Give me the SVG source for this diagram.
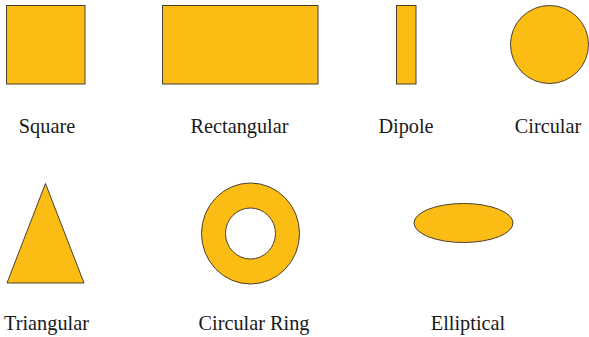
<svg xmlns="http://www.w3.org/2000/svg" width="589" height="337" viewBox="0 0 589 337">
<style>
.s{fill:#FBBC14;stroke:#4a4030;stroke-width:1}
.t{font-family:"Liberation Serif","Times New Roman",serif;font-size:20.3px;fill:#1a1a1a;text-anchor:middle}
</style>
<rect width="589" height="337" fill="#ffffff"/>
<g id="square"><rect class="s" x="6.5" y="5.5" width="78.5" height="78.5"/><text class="t" x="47" y="132.5">Square</text></g>
<g id="rectangular"><rect class="s" x="162.5" y="5.5" width="155.5" height="78.5"/><text class="t" x="239.5" y="132.5">Rectangular</text></g>
<g id="dipole"><rect class="s" x="396.5" y="5.5" width="19.5" height="78.5"/><text class="t" x="406" y="132.5">Dipole</text></g>
<g id="circular"><circle class="s" cx="549.5" cy="44.5" r="39"/><text class="t" x="548" y="132.5">Circular</text></g>
<g id="triangular"><polygon class="s" points="45.5,183.5 7,283 84,283"/><text class="t" x="46.5" y="330">Triangular</text></g>
<g id="circular-ring"><path class="s" fill-rule="evenodd" d="M201.5,233.5a49,50.5 0 1,0 98,0a49,50.5 0 1,0 -98,0Z M225.5,233.5a25,25.5 0 1,0 50,0a25,25.5 0 1,0 -50,0Z"/><text class="t" x="254" y="330">Circular Ring</text></g>
<g id="elliptical"><ellipse class="s" cx="463.5" cy="223" rx="49.5" ry="19.5"/><text class="t" x="468" y="330">Elliptical</text></g>
</svg>
